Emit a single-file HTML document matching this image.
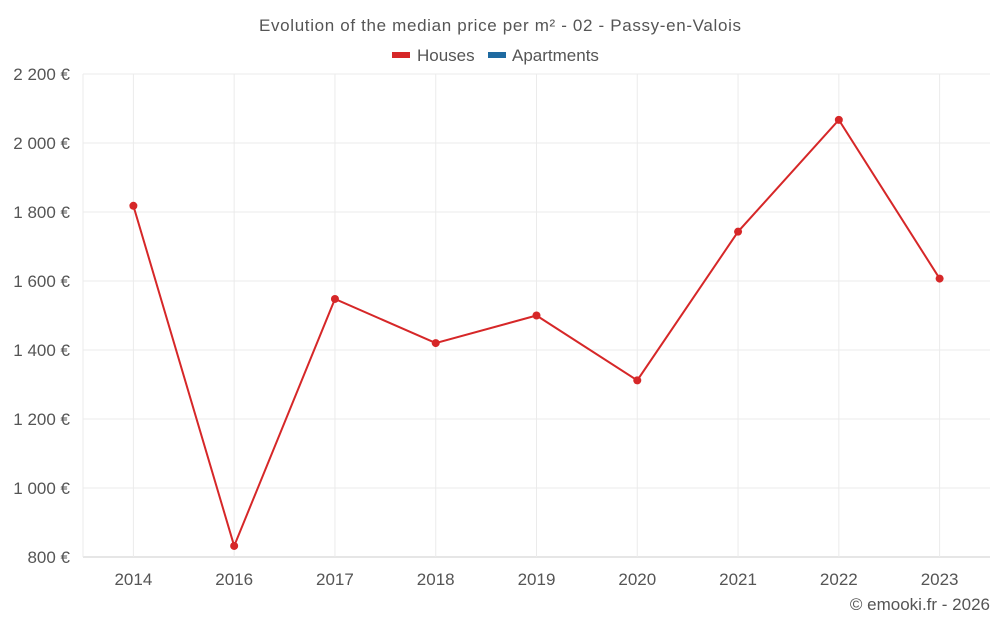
<!DOCTYPE html>
<html><head><meta charset="utf-8"><style>
html,body{margin:0;padding:0;background:#fff;}
svg{display:block;font-family:"Liberation Sans",sans-serif;}
</style></head><body>
<svg id="chart" width="1000" height="625">
<text x="259" y="31" textLength="482" lengthAdjust="spacing" font-size="17" fill="#555">Evolution of the median price per m² - 02 - Passy-en-Valois</text>
<g>
<g><rect x="392" y="52" width="18" height="6" fill="#d62728"/><text x="417" y="61" font-size="17" fill="#555">Houses</text></g>
<g><rect x="488" y="52" width="18" height="6" fill="#1f6aa0"/><text x="512" y="61" font-size="17" fill="#555">Apartments</text></g>
</g>
<g id="grid"></g><g id="axes"></g><g id="series"></g>
<text x="990" y="610" text-anchor="end" font-size="17" fill="#555">© emooki.fr - 2026</text>
</svg>
<script>
const categories=["2014","2016","2017","2018","2019","2020","2021","2022","2023"];
const houses=[1818,832,1548,1420,1500,1312,1743,2067,1607];
const yTicks=[800,1000,1200,1400,1600,1800,2000,2200];
const yTickLabels=["800 €","1 000 €","1 200 €","1 400 €","1 600 €","1 800 €","2 000 €","2 200 €"];
const NS="http://www.w3.org/2000/svg";
const L=83,R=990,T=74,B=557,yMin=800,yMax=2200;
const step=(R-L)/categories.length;
function x(i){return L+step*(i+0.5);}
function y(v){return B-(v-yMin)/(yMax-yMin)*(B-T);}
function mk(tag,attrs,parent){const e=document.createElementNS(NS,tag);for(const k in attrs)e.setAttribute(k,attrs[k]);document.getElementById(parent).appendChild(e);return e;}
yTicks.forEach((v,i)=>{
 const g=mk("line",{x1:L,x2:R,y1:y(v),y2:y(v),stroke:i==0?"#ccc":"#ebebeb","stroke-width":1},"grid");
 
 
 const t=mk("text",{x:70,y:y(v)+6,"text-anchor":"end","font-size":17,fill:"#555"},"axes");
 t.textContent=yTickLabels[i];
 
 
});
const vl=mk("line",{x1:L,x2:L,y1:T,y2:B,stroke:"#ebebeb"},"grid");


categories.forEach((c,i)=>{
 const g=mk("line",{x1:x(i),x2:x(i),y1:T,y2:B,stroke:"#ebebeb"},"grid");
 
 
 const t=mk("text",{x:x(i),y:585,"text-anchor":"middle","font-size":17,fill:"#555"},"axes");
 t.textContent=c;
 
 
});
const pl=mk("polyline",{points:houses.map((v,i)=>x(i)+","+y(v)).join(" "),fill:"none",stroke:"#d62728","stroke-width":2},"series");


houses.forEach((v,i)=>{
 const c=mk("circle",{cx:x(i),cy:y(v),r:4,fill:"#d62728"},"series");
 
 
});
</script>
</body></html>
